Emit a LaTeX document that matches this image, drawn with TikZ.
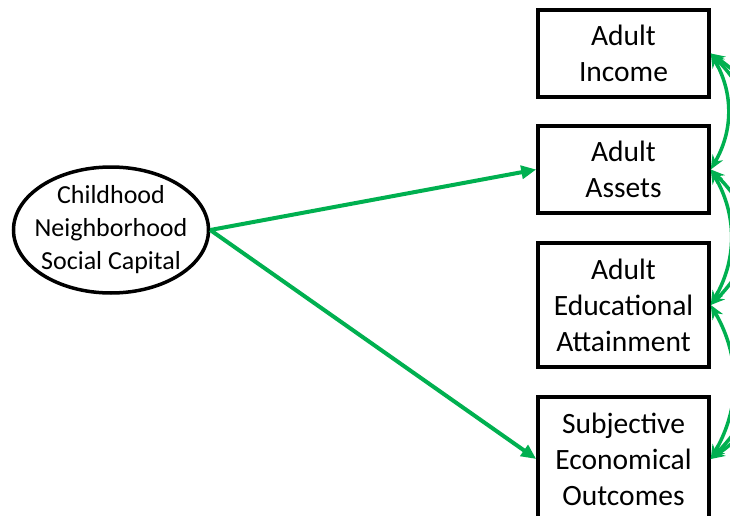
\documentclass[tikz,border=0pt]{standalone}
\usepackage{fontspec}
\setmainfont{Carlito}
\usetikzlibrary{shapes.geometric,arrows.meta}
\definecolor{pathgreen}{RGB}{0,176,80}
\tikzset{
  varbox/.style={draw=black, line width=3.5pt, rectangle, minimum width=171pt,
    align=center, inner sep=0pt, font=\fontsize{29.5}{36}\selectfont},
  latent/.style={draw=black, line width=3.5pt, ellipse, minimum width=195pt,
    minimum height=126pt, inner sep=0pt},
  latenttext/.style={align=center, inner sep=0pt, font=\fontsize{26}{33}\selectfont},
  path/.style={draw=pathgreen, line width=4pt,
    -{Triangle[length=15pt,width=13pt]}},
  cov/.style={draw=pathgreen, line width=3.5pt,
    {Stealth[length=14pt,width=12pt]}-{Stealth[length=14pt,width=12pt]}}
}
\begin{document}
\begin{tikzpicture}[x=1pt,y=-1pt]
  \useasboundingbox (0,0) rectangle (730,516);
  \clip (0,0) rectangle (730,516);
  \fill[white] (0,0) rectangle (730,516);

  % latent predictor
  \node[latent] (cap) at (111,230) {};
  \node[latenttext] (captxt) at (cap.center) {Childhood\\Neighborhood\\Social Capital};

  % adult outcomes
  \node[varbox, minimum height=87pt]  (inc)  at (623.5,53.5) {Adult\\Income};
  \node[varbox, minimum height=87pt]  (ast)  at (623.5,169.5) {Adult\\Assets};
  \node[varbox, minimum height=124pt] (edu)  at (623.5,305) {Adult\\Educational\\Attainment};
  \node[varbox, minimum height=124pt] (subj) at (623.5,459) {Subjective\\Economical\\Outcomes};

  % regression paths
  \draw[path] (cap.east) -- (ast.west);
  \draw[path] (cap.east) -- (subj.west);

  % residual covariances among outcomes
  \draw[cov] (inc.east) to[out=-60,in=60] (ast.east);
  \draw[cov] (ast.east) to[out=-60,in=60] (edu.east);
  \draw[cov] (edu.east) to[out=-60,in=60] (subj.east);
  \draw[cov] (inc.east) to[out=-45,in=45] (edu.east);
  \draw[cov] (ast.east) to[out=-45,in=45] (subj.east);
  \draw[cov] (inc.east) to[out=-35,in=35] (subj.east);
\end{tikzpicture}
\end{document}
